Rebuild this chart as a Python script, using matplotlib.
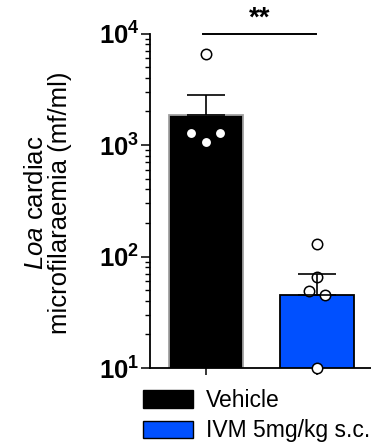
import matplotlib
matplotlib.use("Agg")
import matplotlib.pyplot as plt
import numpy as np
from matplotlib.patches import Patch
from matplotlib.ticker import FuncFormatter, LogLocator

plt.rcParams['font.family'] = ['Liberation Sans', 'DejaVu Sans']
plt.rcParams['mathtext.fontset'] = 'custom'
plt.rcParams['mathtext.rm'] = 'Liberation Sans'
plt.rcParams['mathtext.it'] = 'Liberation Sans:italic'
plt.rcParams['mathtext.bf'] = 'Liberation Sans:bold'

# groups
groups = ['Vehicle', 'IVM 5mg/kg s.c.']
bar_colors = ['#000000', '#0050ff']
edge_colors = ['#a0a0a0', '#000000']

# geometric means and upper error (mf/ml)
means = [1845, 45]
err_top = [2786, 69]

# individual animals
vehicle_pts = [6490, 1280, 1065, 1280]
vehicle_jit = [0.0, -0.14, 0.0, 0.13]
ivm_pts = [129, 65, 49, 45, 10]
ivm_jit = [0.0, 0.0, -0.07, 0.07, 0.0]

fig = plt.figure(figsize=(3.71, 4.42), dpi=100)
ax = fig.add_axes([150/371, 1 - 368/442, 1 - 150/371, (368 - 33.5)/442])

x = np.arange(len(groups))
ax.bar(x, means, width=0.66, color=bar_colors, edgecolor=edge_colors,
       linewidth=1.3, zorder=1)

# points
for i, (pts, jit) in enumerate([(vehicle_pts, vehicle_jit), (ivm_pts, ivm_jit)]):
    ax.plot(i + np.array(jit), pts, 'o', ms=7.5, mfc='white', mec='black',
            mew=1.1, clip_on=False, zorder=3)

# upward error bars only
yerr = np.array([np.zeros(2), np.array(err_top) - np.array(means)])
ax.errorbar(x, means, yerr=yerr, fmt='none', ecolor='black', elinewidth=1.2,
            capsize=13.5, capthick=1.2, zorder=4)

ax.set_yscale('log')
ax.set_ylim(10, 1e4)
ax.set_xlim(-0.505, 1.486)
ax.yaxis.set_major_locator(LogLocator(base=10, numticks=10))
ax.yaxis.set_minor_locator(LogLocator(base=10, subs=np.arange(2, 10), numticks=10))
ax.yaxis.set_major_formatter(FuncFormatter(lambda v, p: r'$\mathbf{10^{%d}}$' % round(np.log10(v))))
ax.yaxis.set_minor_formatter(FuncFormatter(lambda v, p: ''))
ax.set_xticks(x)
ax.set_xticklabels([])

for s in ['top', 'right']:
    ax.spines[s].set_visible(False)
for s in ['left', 'bottom']:
    ax.spines[s].set_linewidth(1.3)
ax.tick_params(axis='y', which='major', length=6.5, width=1.1, labelsize=18.5, pad=1)
ax.tick_params(axis='y', which='minor', length=3.6, width=1.0)
ax.tick_params(axis='x', length=5, width=1.1)

# y label, two lines centred left of the tick labels
fig.text(48/371, 1 - 203/442, '$\\it{Loa}$ cardiac\nmicrofilaraemia (mf/ml)',
         rotation=90, ha='center', va='center', fontsize=18.5, linespacing=1.0,
         multialignment='center')

# significance bracket
ax.plot([-0.03, 0.99], [1e4, 1e4], color='black', lw=1.4, clip_on=False)
ax.text(0.48, 1.03e4, '**', ha='center', va='bottom', fontsize=20,
        fontweight='bold', transform=ax.transData)

handles = [Patch(facecolor=c, edgecolor='black', linewidth=1.0) for c in bar_colors]
fig.legend(handles, groups, loc='upper left',
           bbox_to_anchor=(143/371, 1 - 389/442), bbox_transform=fig.transFigure,
           frameon=False, fontsize=16.5, handlelength=2.2, handleheight=0.8,
           handletextpad=0.55, labelspacing=0.32, borderpad=0, borderaxespad=0)

fig.savefig('out.png', dpi=100)
